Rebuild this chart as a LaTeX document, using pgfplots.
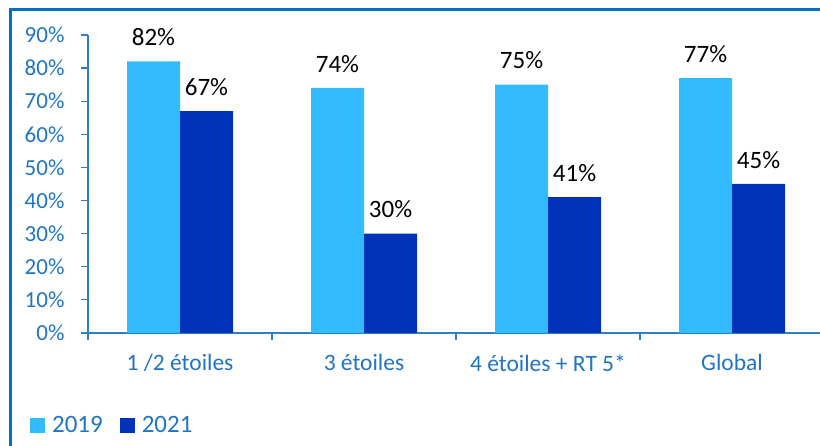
\documentclass[border=0pt]{standalone}
\usepackage{pgfplots}
\pgfplotsset{compat=1.18}
\usepackage{fontspec}
\setmainfont{Carlito}
\definecolor{light}{HTML}{33BBFF}
\definecolor{dark}{HTML}{0033B8}
\definecolor{axisblue}{HTML}{2E7FC8}
\definecolor{textblue}{HTML}{1F75C4}
\definecolor{frameblue}{HTML}{0070C0}
\begin{document}
\begin{tikzpicture}[x=1bp,y=1bp]
\clip (0,0) rectangle (820,446);
\draw[frameblue, line width=3bp] (10,-10) -- (10,436) -- (830,436);
\begin{axis}[
    at={(88bp,113bp)}, anchor=south west,
    scale only axis, width=736bp, height=298bp,
    ybar=0pt, bar width=53bp,
    xmin=-0.5, xmax=3.5, ymin=0, ymax=90,
    clip=false,
    axis x line=bottom, axis y line=left,
    axis line style={axisblue, line width=1.2bp, -},
    xtick={-0.5,0.5,1.5,2.5,3.5},
    x tick label as interval,
    xticklabels={1 /2 étoiles, 3 étoiles, 4 étoiles + RT 5*, Global},
    ytick={0,10,...,90},
    yticklabel={\pgfmathprintnumber{\tick}\%},
    /pgf/number format/assume math mode=true,
    major tick length=7bp,
    tick align=outside,
    tick style={axisblue, line width=1.2bp},
    ticklabel style={textblue},
    yticklabel style={font=\fontsize{23bp}{27bp}\selectfont, xshift=-13bp},
    xticklabel style={font=\fontsize{23.5bp}{27bp}\selectfont, yshift=-11bp},
    nodes near coords={\pgfmathprintnumber{\pgfplotspointmeta}\%},
    nodes near coords style={black, font=\fontsize{25bp}{29bp}\selectfont, yshift=12bp},
    legend columns=2,
    legend style={draw=none, fill=none, at={(axis description cs:-0.083,-0.309)}, anchor=west,
        font=\fontsize{25bp}{28bp}\selectfont, text=textblue,
        /tikz/every odd column/.append style={column sep=5bp},
        /tikz/every even column/.append style={column sep=15bp}},
]
\addplot[fill=light, draw=none,
    legend image code/.code={\fill[light] (0bp,-7.5bp) rectangle (15bp,7.5bp);}]
    coordinates {(0,82) (1,74) (2,75) (3,77)};
\addplot[fill=dark, draw=none,
    legend image code/.code={\fill[dark] (0bp,-7.5bp) rectangle (15bp,7.5bp);}]
    coordinates {(0,67) (1,30) (2,41) (3,45)};
\legend{2019, 2021}
\end{axis}
\end{tikzpicture}
\end{document}
